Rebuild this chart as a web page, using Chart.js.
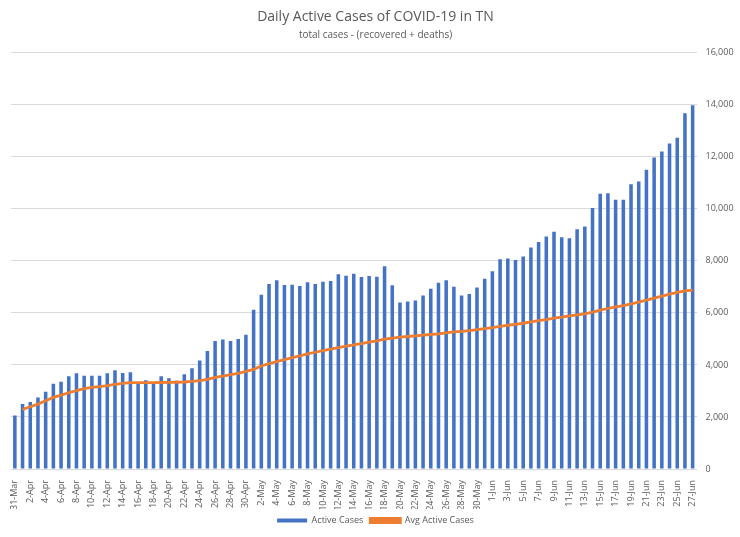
<!DOCTYPE html>
<html>
<head>
<meta charset="utf-8">
<script src="https://cdn.jsdelivr.net/npm/chart.js@4.4.1/dist/chart.umd.min.js"></script>
<style>
  html, body { margin: 0; padding: 0; background: #fff; }
  #wrap { width: 740px; height: 537px; }
</style>
</head>
<body>
<div id="wrap"><canvas id="myChart"></canvas></div>
<script>
// days from 31-Mar to 27-Jun
const days = [
  "31-Mar",
  "1-Apr", "2-Apr", "3-Apr", "4-Apr", "5-Apr", "6-Apr", "7-Apr", "8-Apr", "9-Apr", "10-Apr",
  "11-Apr", "12-Apr", "13-Apr", "14-Apr", "15-Apr", "16-Apr", "17-Apr", "18-Apr", "19-Apr", "20-Apr",
  "21-Apr", "22-Apr", "23-Apr", "24-Apr", "25-Apr", "26-Apr", "27-Apr", "28-Apr", "29-Apr", "30-Apr",
  "1-May", "2-May", "3-May", "4-May", "5-May", "6-May", "7-May", "8-May", "9-May", "10-May",
  "11-May", "12-May", "13-May", "14-May", "15-May", "16-May", "17-May", "18-May", "19-May", "20-May",
  "21-May", "22-May", "23-May", "24-May", "25-May", "26-May", "27-May", "28-May", "29-May", "30-May", "31-May",
  "1-Jun", "2-Jun", "3-Jun", "4-Jun", "5-Jun", "6-Jun", "7-Jun", "8-Jun", "9-Jun", "10-Jun",
  "11-Jun", "12-Jun", "13-Jun", "14-Jun", "15-Jun", "16-Jun", "17-Jun", "18-Jun", "19-Jun", "20-Jun",
  "21-Jun", "22-Jun", "23-Jun", "24-Jun", "25-Jun", "26-Jun", "27-Jun"
];

const activeCases = [
  2058,
  2495, 2572, 2752, 2970, 3280, 3356, 3562, 3678, 3588, 3588,
  3588, 3678, 3794, 3691, 3717, 3266, 3408, 3290, 3562, 3485,
  3395, 3640, 3871, 4167, 4540, 4925, 4977, 4925, 5002, 5157,
  6122, 6700, 7112, 7253, 7073, 7086, 7035, 7176, 7112, 7202,
  7228, 7485, 7433, 7510, 7382, 7420, 7395, 7793, 7060, 6404,
  6443, 6481, 6674, 6932, 7163, 7253, 7009, 6666, 6730, 6980, 7315,
  7598, 8062, 8088, 8036, 8165, 8512, 8731, 8937, 9118, 8912,
  8873, 9221, 9324, 10032, 10586, 10599, 10354, 10354, 10947, 11050,
  11500, 11977, 12209, 12518, 12737, 13677, 13986
];

const avgActiveCases = [
  null,
  2290, 2392, 2495, 2623, 2752, 2842, 2932, 3009, 3086, 3138,
  3164, 3202, 3254, 3292, 3318, 3318, 3320, 3320, 3325, 3330,
  3335, 3345, 3365, 3395, 3446, 3523, 3575, 3626, 3678, 3750,
  3832, 3961, 4051, 4128, 4206, 4282, 4347, 4424, 4488, 4552,
  4604, 4668, 4720, 4771, 4822, 4874, 4925, 4990, 5028, 5067,
  5093, 5118, 5144, 5170, 5195, 5234, 5273, 5290, 5322, 5360, 5397,
  5436, 5487, 5526, 5564, 5603, 5654, 5706, 5745, 5796, 5835,
  5886, 5925, 5964, 6028, 6105, 6170, 6234, 6285, 6350, 6414,
  6492, 6569, 6646, 6723, 6788, 6852, 6880
];

const yTicks = [0, 2000, 4000, 6000, 8000, 10000, 12000, 14000, 16000];

const greyText = "#595959";
const fontFamily = "'Open Sans', 'Liberation Sans', sans-serif";

let ctx = document.getElementById("myChart").getContext("2d");

let myChart = new Chart(ctx, {
  type: "bar",
  data: {
    labels: days,
    datasets: [
      {
        type: "line",
        label: "Avg Active Cases",
        data: avgActiveCases,
        borderColor: "#ed7d31",
        backgroundColor: "#ed7d31",
        borderWidth: 2.8,
        pointRadius: 0,
        tension: 0,
        order: 1
      },
      {
        label: "Active Cases",
        data: activeCases,
        backgroundColor: "#4472c4",
        borderWidth: 0,
        barPercentage: 0.46,
        categoryPercentage: 1.0,
        order: 2
      }
    ]
  },
  options: {
    responsive: true,
    maintainAspectRatio: false,
    animation: false,
    layout: {
      padding: { left: 11, right: 0, top: 0, bottom: 2 }
    },
    plugins: {
      title: {
        display: true,
        text: "Daily Active Cases of COVID-19 in TN",
        color: greyText,
        font: { family: fontFamily, size: 14, weight: "normal" },
        padding: { top: 9, bottom: 3 }
      },
      subtitle: {
        display: true,
        text: "total cases - (recovered + deaths)",
        color: greyText,
        font: { family: fontFamily, size: 10, weight: "normal" },
        padding: { top: 0, bottom: 12 }
      },
      legend: {
        position: "bottom",
        reverse: true,
        labels: {
          color: greyText,
          font: { family: fontFamily, size: 9 },
          boxWidth: 30,
          boxHeight: 4,
          padding: 7
        }
      },
      tooltip: { enabled: false }
    },
    scales: {
      x: {
        grid: { display: false },
        border: { display: false },
        ticks: {
          color: greyText,
          font: { family: fontFamily, size: 9 },
          autoSkip: false,
          maxRotation: 90,
          minRotation: 90,
          padding: 3,
          // only every second day gets a label
          callback: function (value, index) {
            return index % 2 === 0 ? days[index] : "";
          }
        },
        afterFit: function (scale) {
          scale.height = 40;
        }
      },
      y: {
        position: "right",
        min: 0,
        max: 16000,
        afterBuildTicks: function (scale) {
          scale.ticks = yTicks.map((v) => ({ value: v }));
        },
        grid: { color: "#d9d9d9", drawTicks: false, lineWidth: 1 },
        border: { display: false },
        ticks: {
          color: greyText,
          font: { family: fontFamily, size: 9 },
          padding: 9,
          callback: function (value) {
            return value.toLocaleString("en-US");
          }
        },
        afterFit: function (scale) {
          scale.width = 43.5;
        }
      }
    }
  }
});
</script>
</body>
</html>
